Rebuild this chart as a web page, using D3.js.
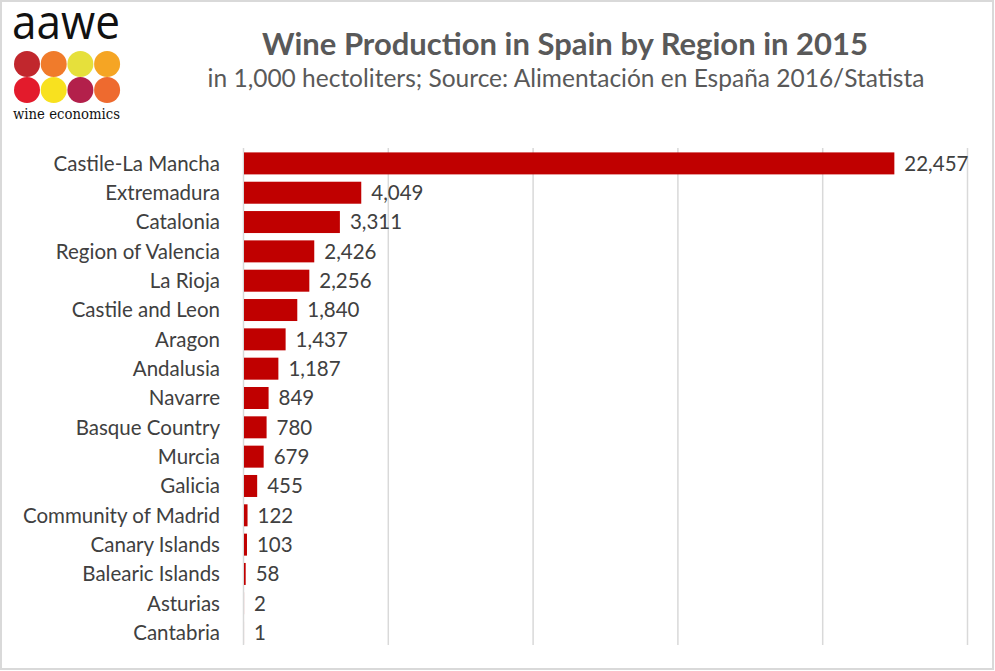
<!DOCTYPE html>
<html><head><meta charset="utf-8">
<script src="https://cdn.jsdelivr.net/npm/d3@7/dist/d3.min.js"></script>
<style>
html,body{margin:0;padding:0;background:#fff;}
svg{display:block;}
</style></head>
<body>
<svg id="chart" width="995" height="671"></svg>
<script>
const regions = ["Castile-La Mancha","Extremadura","Catalonia","Region of Valencia","La Rioja","Castile and Leon","Aragon","Andalusia","Navarre","Basque Country","Murcia","Galicia","Community of Madrid","Canary Islands","Balearic Islands","Asturias","Cantabria"];
const production = [22457,4049,3311,2426,2256,1840,1437,1187,849,780,679,455,122,103,58,2,1];
const xTicks = [0,5000,10000,15000,20000,25000];
const logoColors = ["#c1272d","#f07b2b","#e6e03b","#f5a524","#e31b2c","#f8e11f","#b3204b","#ee6a2f"];

(function(){
const svg = d3.select("#chart");
const W = 995, H = 671;
svg.append("rect").attr("x",1).attr("y",1).attr("width",W-3).attr("height",H-3)
  .attr("fill","#fff").attr("stroke","#d9d9d9").attr("stroke-width",2);

const font = "Lato, 'Open Sans', sans-serif";
const pLeft = 243, pRight = 967, pTop = 148, pBottom = 648;
const x = d3.scaleLinear().domain([0,25000]).range([pLeft,pRight]);
const y = d3.scaleBand().domain(regions).range([pTop,pBottom]).paddingInner(0.25).paddingOuter(0.15);

svg.append("g").selectAll("line").data(xTicks).join("line")
  .attr("x1",d=>x(d)+0.5).attr("x2",d=>x(d)+0.5).attr("y1",pTop).attr("y2",pBottom-3)
  .attr("stroke","#d9d9d9").attr("stroke-width",1.5);

svg.append("g").selectAll("rect").data(production).join("rect")
  .attr("x",x(0)+1).attr("y",(d,i)=>y(regions[i]))
  .attr("width",d=>Math.max(0,x(d)-x(0)))
  .attr("height",y.bandwidth()).attr("fill","#c00000");

const fmt = d3.format(",");
svg.append("g").selectAll("text").data(production).join("text")
  .attr("x",d=>x(d)+11).attr("y",(d,i)=>y(regions[i])+y.bandwidth()/2)
  .attr("dy","0.36em").attr("font-family",font).attr("font-size",20.5).attr("fill","#404040")
  .text(d=>fmt(d));

svg.append("g").selectAll("text").data(regions).join("text")
  .attr("x",pLeft-23).attr("y",d=>y(d)+y.bandwidth()/2).attr("dy","0.36em")
  .attr("text-anchor","end").attr("font-family",font).attr("font-size",20.5).attr("fill","#404040")
  .text(d=>d);

svg.append("text").attr("x",565).attr("y",55).attr("text-anchor","middle")
  .attr("font-family",font).attr("font-weight","bold").attr("font-size",31).attr("fill","#595959")
  .text("Wine Production in Spain by Region in 2015");
svg.append("text").attr("x",566).attr("y",87).attr("text-anchor","middle")
  .attr("font-family",font).attr("font-size",24.5).attr("fill","#595959")
  .text("in 1,000 hectoliters; Source: Alimentación en España 2016/Statista");

const logo = svg.append("g");
logo.append("text").attr("x",12).attr("y",39).attr("font-family","'Open Sans', sans-serif")
  .attr("font-size",48).attr("fill","#111").attr("textLength",108).attr("lengthAdjust","spacingAndGlyphs").text("aawe");
logo.selectAll("circle").data(logoColors).join("circle")
  .attr("cx",(d,i)=>27+(i%4)*26.7).attr("cy",(d,i)=>64+Math.floor(i/4)*26)
  .attr("r",13).attr("fill",d=>d);
logo.append("text").attr("x",13).attr("y",119).attr("font-family","'DejaVu Serif', 'Liberation Serif', serif")
  .attr("font-size",14).attr("fill","#111").attr("textLength",107).attr("lengthAdjust","spacingAndGlyphs").text("wine economics");
})();
</script>
</body></html>
